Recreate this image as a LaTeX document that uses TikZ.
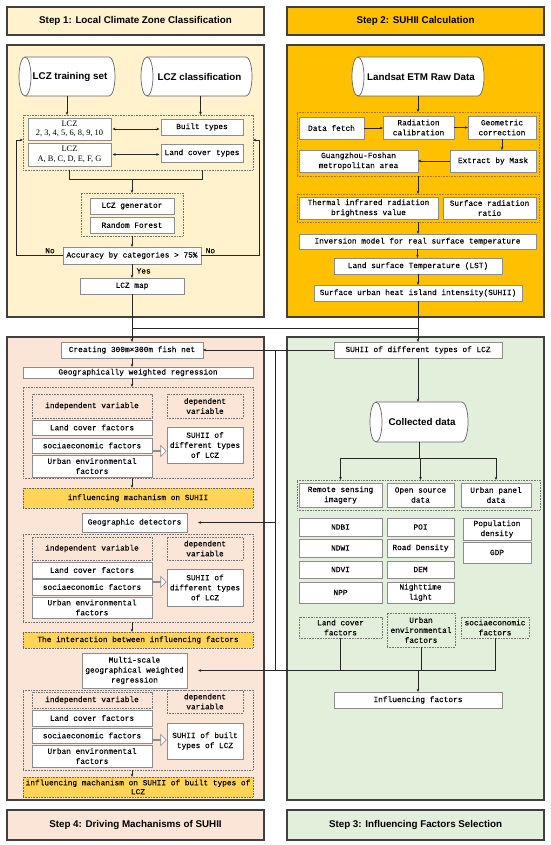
\documentclass[tikz,border=0pt]{standalone}
\usepackage{fontspec}
\setmainfont{Liberation Serif}
\newfontfamily\hdf{Liberation Sans}
\newfontfamily\monof[FakeBold=0.12]{Liberation Mono}
\usetikzlibrary{arrows.meta,shapes.arrows}
\definecolor{cone}{HTML}{FFF2CC}
\definecolor{ctwo}{HTML}{FFC000}
\definecolor{cthree}{HTML}{E2EFDA}
\definecolor{cfour}{HTML}{FBE5D6}
\definecolor{corg}{HTML}{FFD457}
\definecolor{cdot}{HTML}{B07800}
\tikzset{
  bxbase/.style={rectangle,inner sep=0pt,outer sep=0pt,align=center},
  hdr/.style={draw=black!75,line width=1.1pt,font={\hdf\bfseries\fontsize{9.8}{11}\selectfont}},
  panel/.style={draw=black!75,line width=1.1pt},
  box/.style={draw=black!45,line width=0.6pt,fill=white,font={\monof\fontsize{7.8}{10}\selectfont}},
  serifbox/.style={draw=black!45,line width=0.6pt,fill=white,font={\fontsize{8.4}{9.6}\selectfont}},
  dbox/.style={draw=black!55,dash pattern=on 0.8pt off 0.8pt,line width=0.6pt,font={\monof\fontsize{7.8}{10}\selectfont}},
  dboxo/.style={draw=cdot,dash pattern=on 0.8pt off 0.8pt,line width=0.6pt},
  obox/.style={draw=black!60,fill=corg,dash pattern=on 0.8pt off 0.8pt,line width=0.6pt,font={\monof\fontsize{7.8}{9}\selectfont}},
  ln/.style={draw=black!85,line width=0.7pt},
  arr/.style={ln,-{Stealth[length=3.2pt,width=2.6pt]}},
  darr/.style={ln,{Stealth[length=3.2pt,width=2.6pt]}-{Stealth[length=3.2pt,width=2.6pt]}},
  lbl/.style={inner sep=0.5pt,font={\monof\fontsize{7.8}{9}\selectfont}},
  cylfont/.style={font={\hdf\bfseries\fontsize{9.8}{11}\selectfont}},
  harrow/.style={single arrow,draw=black!45,fill=white,line width=0.6pt,minimum height=13pt,minimum width=11pt,single arrow head extend=3pt,inner sep=0pt}
}
% [style]{name}{x1}{y1}{x2}{y2}{text}
\newcommand\mkbox[7][]{\node[bxbase,#1,minimum width={(#5)-(#3)},minimum height={(#6)-(#4)}] (#2) at ({((#3)+(#5))/2},{-((#4)+(#6))/2}) {#7};}
% {name}{x1}{y1}{x2}{y2}{text}
\newcommand\mkcyl[6]{%
  \node[bxbase,minimum width={(#4)-(#2)},minimum height={(#5)-(#3)}] (#1) at ({((#2)+(#4))/2},{-((#3)+(#5))/2}) {};
  \draw[draw=black!60,line width=0.7pt,fill=white] ([xshift=6pt]#1.north west) -- ([xshift=-6pt]#1.north east)
     arc[start angle=90,end angle=-90,x radius=6pt,y radius={((#5)-(#3))/2*1pt}]
     -- ([xshift=6pt]#1.south west)
     arc[start angle=270,end angle=90,x radius=6pt,y radius={((#5)-(#3))/2*1pt}] -- cycle;
  \draw[draw=black!60,line width=0.7pt] ([xshift=6pt]#1.north west) arc[start angle=90,end angle=-90,x radius=6pt,y radius={((#5)-(#3))/2*1pt}];
  \node[cylfont,inner sep=0pt] (#1t) at ([xshift=3pt]#1.center) {#6};
}
\begin{document}
\begin{tikzpicture}[x=1pt,y=1pt]
\useasboundingbox (0,0) rectangle (550,-845);
\fill[white] (0,0) rectangle (550,-845);

% ---------------- Step 1 ----------------
\mkbox[hdr,fill=cone]{h1}{7}{7}{264}{35}{Step 1: Local Climate Zone Classification}
\mkbox[panel,fill=cone]{p1}{7}{45}{264}{317}{}
\mkcyl{cya}{19}{57}{115}{96}{LCZ training set}
\mkcyl{cyb}{141}{57}{252}{96}{LCZ classification}
\mkbox[dbox]{d1}{23}{115}{253}{170}{}
\mkbox[serifbox]{lza}{28}{118}{111}{140}{LCZ\\2, 3, 4, 5, 6, 8, 9, 10}
\mkbox[box]{bt}{161}{119}{243}{135}{Built types}
\mkbox[serifbox]{lzb}{28}{143}{111}{166}{LCZ\\A, B, C, D, E, F, G}
\mkbox[box]{lct}{161}{144}{243}{162}{Land cover types}
\mkbox[dbox]{d2}{81}{193}{183}{236}{}
\mkbox[box]{gen}{90}{198}{174}{214}{LCZ generator}
\mkbox[box]{rf}{90}{217}{174}{233}{Random Forest}
\mkbox[box]{acc}{63}{247}{201}{264}{Accuracy by categories > 75\%}
\mkbox[box]{map}{80}{278}{184}{294}{LCZ map}

\draw[arr] (cya.south) -- (cya.south |- d1.north);
\draw[arr] ([xshift=4pt]cyb.south) -- ([xshift=4pt]cyb.south |- d1.north);
\draw[darr,shorten <=1.5pt,shorten >=1.5pt] (lza.east) -- (lza.east -| bt.west);
\draw[darr,shorten <=1.5pt,shorten >=1.5pt] (lzb.east) -- (lzb.east -| lct.west);
\coordinate (bl) at (69.5,-179);
\draw[ln] (lzb.south |- d1.south) -- (bl) -- (bl -| bt.south) -- (bt.south |- d1.south);
\draw[arr] (bl -| d2.north) -- (d2.north);
\draw[arr] (d2.south) -- (acc.north);
\draw[arr] (acc.south) -- (map.north);
\node[lbl,anchor=west] (yes) at (136,-271) {Yes};
\coordinate (ll) at (16,-140);
\coordinate (rr) at (259,-140);
\draw[arr] (acc.west) -- (acc.west -| ll) -- (ll) -- (ll -| d1.west);
\draw[arr] (acc.east) -- (acc.east -| rr) -- (rr) -- (rr -| d1.east);
\node[lbl,anchor=south] (noa) at (50,-254) {No};
\node[lbl,anchor=south west] (nob) at (205,-254) {No};

% ---------------- Step 2 ----------------
\mkbox[hdr,fill=ctwo]{h2}{287}{7}{544}{35}{Step 2: SUHII Calculation}
\mkbox[panel,fill=ctwo]{p2}{287}{45}{544}{317}{}
\mkcyl{cyc}{352}{57}{484}{96}{Landsat ETM Raw Data}
\mkbox[dboxo]{d3}{297}{112}{539}{176}{}
\mkbox[box]{df}{299}{117}{364}{139}{Data fetch}
\mkbox[box]{rc}{383}{116}{454}{139}{Radiation\\calibration}
\mkbox[box]{gc}{468}{116}{536}{139}{Geometric\\correction}
\mkbox[box]{gf}{299}{150}{418}{172}{Guangzhou-Foshan\\metropolitan area}
\mkbox[box]{em}{450}{150}{536}{172}{Extract by Mask}
\mkbox[dboxo]{d4}{297}{194}{539}{222}{}
\mkbox[box]{tir}{299}{197}{438}{219}{Thermal infrared radiation\\brightness value}
\mkbox[box]{srr}{443}{197}{536}{219}{Surface radiation\\ratio}
\mkbox[box]{inv}{299}{234}{536}{249}{Inversion model for real surface temperature}
\mkbox[box]{lst}{334}{258}{502}{274}{Land surface Temperature (LST)}
\mkbox[box]{suh}{314}{285}{522}{301}{Surface urban heat island intensity(SUHII)}

\draw[arr] (cyc.south) -- (cyc.south |- d3.north);
\draw[arr] (df.east) -- (df.east -| rc.west);
\draw[arr] (rc.east) -- (rc.east -| gc.west);
\draw[arr] (gc.south) -- (gc.south |- em.north);
\draw[arr] (em.west) -- (em.west -| gf.east);
\draw[arr] (d3.south) -- (d4.north);
\draw[arr] (d4.south) -- (d4.south |- inv.north);
\draw[arr] (inv.south) -- (inv.south |- lst.north);
\draw[arr] (lst.south) -- (lst.south |- suh.north);

% ---------------- Step 4 ----------------
\mkbox[hdr,fill=cfour]{h4}{7}{810}{264}{840}{Step 4: Driving Machanisms of SUHII}
\mkbox[panel,fill=cfour]{p4}{7}{337}{264}{800}{}
\mkbox[box]{fish}{61}{342}{203}{358}{Creating 300m×300m fish net}
\mkbox[box]{gwr}{23}{367}{253}{378}{Geographically weighted regression}
\mkbox[dbox]{d6}{23}{387}{253}{478}{}
\mkbox[dbox]{iva}{32}{394}{152}{418}{independent variable}
\mkbox[dbox]{dva}{167}{394}{243}{418}{dependent\\variable}
\mkbox[box]{lca}{32}{420}{152}{435}{Land cover factors}
\mkbox[box]{sea}{32}{438}{152}{453}{sociaeconomic factors}
\mkbox[box]{uea}{32}{455}{152}{477}{Urban environmental\\factors}
\mkbox[box]{sua}{167}{427}{243}{463}{SUHII of\\different types\\of LCZ}
\node[harrow] (ha1) at (159.5,-451) {};
\mkbox[obox]{ima}{23}{488}{253}{508}{influencing machanism on SUHII}
\mkbox[box]{gd}{82}{513}{187}{532}{Geographic detectors}
\mkbox[dbox]{d7}{23}{534}{253}{622}{}
\mkbox[dbox]{ivb}{32}{537}{152}{560}{independent variable}
\mkbox[dbox]{dvb}{167}{537}{243}{560}{dependent\\variable}
\mkbox[box]{lcb}{32}{562}{152}{578}{Land cover factors}
\mkbox[box]{seb}{32}{579}{152}{595}{sociaeconomic factors}
\mkbox[box]{ueb}{32}{597}{152}{618}{Urban environmental\\factors}
\mkbox[box]{sub}{167}{569}{243}{606}{SUHII of\\different types\\of LCZ}
\node[harrow] (ha2) at (159.5,-582) {};
\mkbox[obox]{int}{23}{632}{253}{648}{The interaction between influencing factors}
\mkbox[box]{mgwr}{82}{653}{187}{688}{Multi-scale\\geographical weighted\\regression}
\mkbox[dbox]{d8}{23}{690}{253}{770}{}
\mkbox[dbox]{ivc}{32}{692}{152}{708}{independent variable}
\mkbox[dbox]{dvc}{167}{690}{243}{713}{dependent\\variable}
\mkbox[box]{lcc}{32}{710}{152}{726}{Land cover factors}
\mkbox[box]{sec}{32}{728}{152}{743}{sociaeconomic factors}
\mkbox[box]{uec}{32}{745}{152}{767}{Urban environmental\\factors}
\mkbox[box]{suc}{167}{723}{243}{759}{SUHII of built\\types of LCZ}
\node[harrow] (ha3) at (159.5,-740) {};
\mkbox[obox]{imb}{23}{777}{253}{797}{influencing machanism on SUHII of built types of\\LCZ}

\draw[arr] (fish.south) -- (fish.south |- gwr.north);
\draw[arr] (gwr.south -| fish.south) -- (fish.south |- d6.north);
\draw[arr] (fish.south |- d6.south) -- (fish.south |- ima.north);
\draw[arr] (fish.south |- d7.south) -- (fish.south |- int.north);
\draw[arr] (fish.south |- d8.south) -- (fish.south |- imb.north);

% ---------------- Step 3 ----------------
\mkbox[hdr,fill=cthree]{h3}{287}{810}{544}{840}{Step 3: Influencing Factors Selection}
\mkbox[panel,fill=cthree]{p3}{287}{337}{544}{800}{}
\mkbox[box]{sl}{334}{342}{502}{358}{SUHII of different types of LCZ}
\mkcyl{cd}{370}{402}{468}{442}{Collected data}
\mkbox[dbox]{d5}{297}{480}{540}{510}{}
\mkbox[box]{rs}{299}{483}{382}{507}{Remote sensing\\imagery}
\mkbox[box]{os}{387}{483}{454}{507}{Open source\\data}
\mkbox[box]{up}{461}{483}{531}{507}{Urban panel\\data}
\mkbox[box]{ndbi}{299}{518}{382}{536}{NDBI}
\mkbox[box]{ndwi}{299}{539}{382}{557}{NDWI}
\mkbox[box]{ndvi}{299}{561}{382}{578}{NDVI}
\mkbox[box]{npp}{299}{582}{382}{603}{NPP}
\mkbox[box]{poi}{387}{518}{454}{536}{POI}
\mkbox[box]{rd}{387}{539}{454}{557}{Road Density}
\mkbox[box]{dem}{387}{561}{454}{578}{DEM}
\mkbox[box]{ntl}{387}{582}{454}{603}{Nighttime\\light}
\mkbox[box]{pop}{463}{518}{531}{540}{Population\\density}
\mkbox[box]{gdp}{463}{542}{531}{563}{GDP}
\mkbox[dbox]{lcf}{299}{617}{382}{638}{Land cover\\factors}
\mkbox[dbox]{uef}{387}{613}{455}{647}{Urban\\environmental\\factors}
\mkbox[dbox]{sef}{461}{617}{529}{638}{sociaeconomic\\factors}
\mkbox[box]{inf}{334}{692}{502}{708}{Influencing factors}

\draw[arr] (sl.south) -- (sl.south |- cd.north);
\coordinate (cbus) at (419,-458);
\draw[ln] (cd.south) -- (cbus);
\draw[ln] (cbus -| rs.north) -- (cbus -| up.north);
\draw[arr] (cbus -| rs.north) -- (rs.north |- d5.north);
\draw[arr] (cbus -| os.north) -- (os.north |- d5.north);
\draw[arr] (cbus -| up.north) -- (up.north |- d5.north);

% ---------------- cross connectors ----------------
\draw[arr] (map.south) -- (fish.north);
\draw[arr] (suh.south) -- (suh.south |- sl.north);
\coordinate (jl) at (132,-328);
\coordinate (jr) at (418,-328);
\draw[ln] (jl) -- (jr);
\draw[arr] (sl.west) -- (sl.west -| fish.east);
\coordinate (vt) at (275,-350);
\coordinate (hbus) at (275,-670.5);
\draw[ln] (vt) -- (hbus);
\draw[arr,shorten >=11pt] (vt |- gd.east) -- (gd.east);
\draw[arr,shorten >=11pt] (hbus) -- (hbus -| mgwr.east);
\draw[ln] (lcf.south) -- (lcf.south |- hbus);
\draw[ln] (uef.south) -- (uef.south |- hbus);
\draw[ln] (sef.south) -- (sef.south |- hbus);
\draw[ln] (hbus) -- (hbus -| sef.south);
\draw[arr] (hbus -| inf.north) -- (inf.north);
\end{tikzpicture}
\end{document}
